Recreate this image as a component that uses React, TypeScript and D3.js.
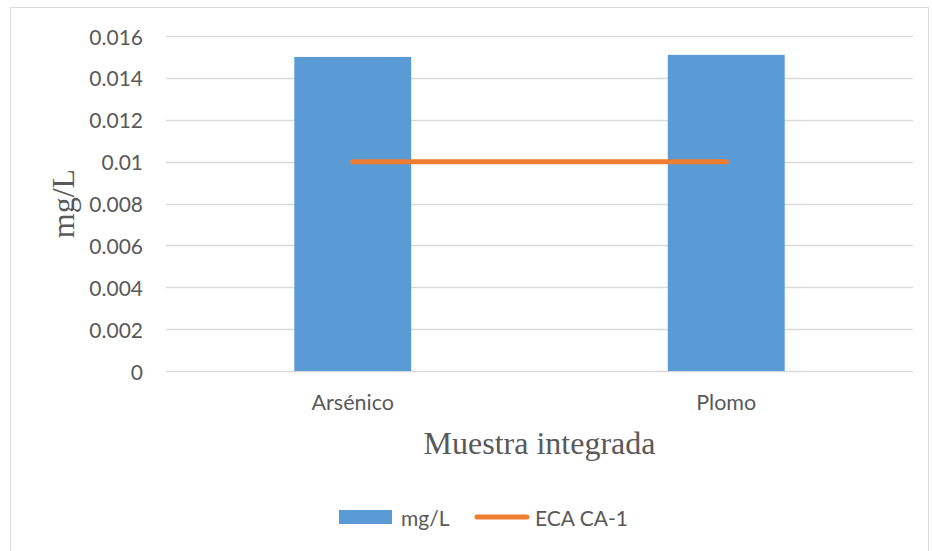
import React from "react";
import * as d3 from "d3";

// Concentrations measured in the composite sample (mg/L)
const categories = ["Arsénico", "Plomo"];
const measured = [0.015, 0.0151];
// Environmental quality standard ECA category 1
const ecaLimit = [0.01, 0.01];
const yTicks = [0, 0.002, 0.004, 0.006, 0.008, 0.01, 0.012, 0.014, 0.016];
const seriesNames = ["mg/L", "ECA CA-1"];

const W = 932;
const H = 551;
const margin = { left: 166, right: 913, top: 36, bottom: 371 };
const BLUE = "#5B9BD5";
const ORANGE = "#ED7D31";
const GRID = "#D9D9D9";
const TEXT = "#595959";
const SANS = "Lato, 'Liberation Sans', sans-serif";
const SERIF = "'Liberation Serif', 'Times New Roman', serif";

export default function App() {
  const x = d3
    .scaleBand<string>()
    .domain(categories)
    .range([margin.left, margin.right])
    .paddingInner(0.687)
    .paddingOuter(0.3435);
  const band = d3.scaleBand<string>().domain(categories).range([margin.left, margin.right]);
  const y = d3.scaleLinear().domain([0, 0.016]).range([margin.bottom, margin.top]);

  const line = d3
    .line<number>()
    .x((_, i) => (band(categories[i]) ?? 0) + band.bandwidth() / 2)
    .y((d) => y(d));

  return (
    <svg
      width={W}
      height={H}
      style={{ position: "absolute", left: 0, top: 0, background: "#fff" }}
    >
      <rect x={10.5} y={7.5} width={918} height={560} fill="#fff" stroke={GRID} strokeWidth={1} />

      {yTicks.map((t) => (
        <g key={t}>
          <line
            x1={margin.left}
            x2={margin.right}
            y1={Math.round(y(t)) + 0.5}
            y2={Math.round(y(t)) + 0.5}
            stroke={GRID}
            strokeWidth={1.3}
          />
          <text
            x={143}
            y={y(t)}
            textAnchor="end"
            dominantBaseline="central"
            fontFamily={SANS}
            fontSize={21}
            fill={TEXT}
          >
            {String(+t.toFixed(3))}
          </text>
        </g>
      ))}

      {categories.map((c, i) => (
        <rect
          key={c}
          x={x(c)}
          y={y(measured[i])}
          width={x.bandwidth()}
          height={y(0) - y(measured[i])}
          fill={BLUE}
        />
      ))}

      <path
        d={line(ecaLimit) ?? ""}
        fill="none"
        stroke={ORANGE}
        strokeWidth={5}
        strokeLinecap="round"
      />

      {categories.map((c) => (
        <text
          key={c}
          x={(band(c) ?? 0) + band.bandwidth() / 2}
          y={410}
          textAnchor="middle"
          fontFamily={SANS}
          fontSize={21.5}
          fill={TEXT}
        >
          {c}
        </text>
      ))}

      <text
        x={(margin.left + margin.right) / 2}
        y={454}
        textAnchor="middle"
        fontFamily={SERIF}
        fontSize={32}
        fill={TEXT}
      >
        Muestra integrada
      </text>

      <text
        transform={`translate(74, ${(margin.top + margin.bottom) / 2}) rotate(-90)`}
        textAnchor="middle"
        fontFamily={SERIF}
        fontSize={32}
        fill={TEXT}
      >
        mg/L
      </text>

      {/* legend */}
      <rect x={339} y={510} width={53} height={14} fill={BLUE} />
      <text x={401} y={517} dominantBaseline="central" fontFamily={SANS} fontSize={21} fill={TEXT}>
        {seriesNames[0]}
      </text>
      <line x1={477} x2={527} y1={517} y2={517} stroke={ORANGE} strokeWidth={5} strokeLinecap="round" />
      <text x={535} y={517} dominantBaseline="central" fontFamily={SANS} fontSize={21} fill={TEXT}>
        {seriesNames[1]}
      </text>
    </svg>
  );
}
